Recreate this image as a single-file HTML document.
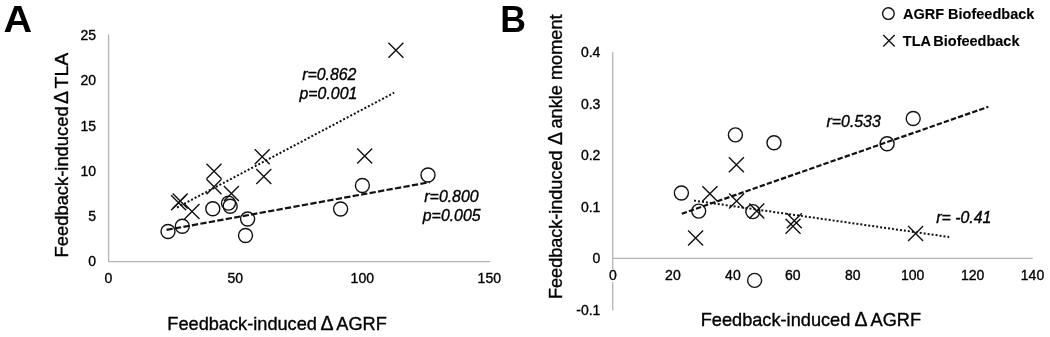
<!DOCTYPE html>
<html><head><meta charset="utf-8"><title>Figure</title>
<style>html,body{margin:0;padding:0;background:#fff;}svg{display:block;}text{font-family:"Liberation Sans",sans-serif;fill:#000;stroke:#000;stroke-width:0.35px;}.t{font-size:14px;}.ax{font-size:18.2px;}.it{font-size:15.8px;font-style:italic;}.pl{font-weight:bold;fill:#000;stroke:none;}.lg{font-size:14.5px;font-weight:bold;stroke-width:0.12px;}</style></head><body>
<svg width="1050" height="337" viewBox="0 0 1050 337">
<rect width="1050" height="337" fill="#fff"/>
<text class="pl" transform="translate(3.5 32.3) scale(1.075 1)" font-size="36.9">A</text>
<path d="M108.6 34.8V261.6H489.6" stroke="#b4b4b4" stroke-width="1.3" stroke-linejoin="round" stroke-linecap="round" fill="none"/>
<text class="t" x="96.0" y="266.4" text-anchor="end">0</text>
<text class="t" x="96.0" y="221.1" text-anchor="end">5</text>
<text class="t" x="96.0" y="175.9" text-anchor="end">10</text>
<text class="t" x="96.0" y="130.6" text-anchor="end">15</text>
<text class="t" x="96.0" y="85.4" text-anchor="end">20</text>
<text class="t" x="96.0" y="40.1" text-anchor="end">25</text>
<text class="t" x="108.3" y="282.8" text-anchor="middle">0</text>
<text class="t" x="235.3" y="282.8" text-anchor="middle">50</text>
<text class="t" x="362.3" y="282.8" text-anchor="middle">100</text>
<text class="t" x="489.3" y="282.8" text-anchor="middle">150</text>
<text class="ax" y="329.9"><tspan x="167.3">Feedback-induced</tspan><tspan x="326.9" text-anchor="middle" font-size="19.5">Δ</tspan><tspan x="336.3">AGRF</tspan></text>
<text class="ax" transform="translate(68 0) rotate(-90)"><tspan x="-257.4" textLength="151" lengthAdjust="spacingAndGlyphs">Feedback-induced</tspan><tspan x="-97.5" text-anchor="middle" font-size="19.5">Δ</tspan><tspan x="-88.5" textLength="35.7" lengthAdjust="spacingAndGlyphs">TLA</tspan></text>
<line x1="177" y1="207.5" x2="394.2" y2="92.7" stroke="#111" stroke-width="2" stroke-dasharray="2 2"/>
<line x1="166.5" y1="229.9" x2="429.7" y2="182.2" stroke="#111" stroke-width="2.2" stroke-dasharray="6.3 2.3"/>
<circle cx="168.0" cy="231.5" r="7.0" stroke="#111" stroke-width="1.4" fill="none"/>
<circle cx="182.3" cy="226.3" r="7.0" stroke="#111" stroke-width="1.4" fill="none"/>
<circle cx="212.8" cy="208.7" r="7.0" stroke="#111" stroke-width="1.4" fill="none"/>
<circle cx="228.5" cy="203.1" r="7.0" stroke="#111" stroke-width="1.4" fill="none"/>
<circle cx="230.2" cy="206.3" r="7.0" stroke="#111" stroke-width="1.4" fill="none"/>
<circle cx="247.6" cy="219.0" r="7.0" stroke="#111" stroke-width="1.4" fill="none"/>
<circle cx="245.5" cy="235.5" r="7.0" stroke="#111" stroke-width="1.4" fill="none"/>
<circle cx="340.6" cy="209.0" r="7.0" stroke="#111" stroke-width="1.4" fill="none"/>
<circle cx="362.4" cy="185.5" r="7.0" stroke="#111" stroke-width="1.4" fill="none"/>
<circle cx="428.0" cy="175.0" r="7.0" stroke="#111" stroke-width="1.4" fill="none"/>
<path d="M171.1 195.2L186.1 210.2M171.1 210.2L186.1 195.2" stroke="#111" stroke-width="1.4" fill="none"/>
<path d="M172.7 193.6L187.7 208.6M172.7 208.6L187.7 193.6" stroke="#111" stroke-width="1.4" fill="none"/>
<path d="M184.5 204.0L199.5 219.0M184.5 219.0L199.5 204.0" stroke="#111" stroke-width="1.4" fill="none"/>
<path d="M206.5 163.8L221.5 178.8M206.5 178.8L221.5 163.8" stroke="#111" stroke-width="1.4" fill="none"/>
<path d="M206.5 179.3L221.5 194.3M206.5 194.3L221.5 179.3" stroke="#111" stroke-width="1.4" fill="none"/>
<path d="M223.9 185.9L238.9 200.9M223.9 200.9L238.9 185.9" stroke="#111" stroke-width="1.4" fill="none"/>
<path d="M254.7 149.3L269.7 164.3M254.7 164.3L269.7 149.3" stroke="#111" stroke-width="1.4" fill="none"/>
<path d="M256.3 168.9L271.3 183.9M256.3 183.9L271.3 168.9" stroke="#111" stroke-width="1.4" fill="none"/>
<path d="M357.2 148.6L372.2 163.6M357.2 163.6L372.2 148.6" stroke="#111" stroke-width="1.4" fill="none"/>
<path d="M388.4 42.7L403.4 57.7M388.4 57.7L403.4 42.7" stroke="#111" stroke-width="1.4" fill="none"/>
<text class="it" transform="translate(356.4 80.3) scale(1.005 1)" text-anchor="end">r=0.862</text>
<text class="it" transform="translate(357.3 99.3) scale(1.005 1)" text-anchor="end">p=0.001</text>
<text class="it" transform="translate(478.6 202.3) scale(1.005 1)" text-anchor="end">r=0.800</text>
<text class="it" transform="translate(480.6 220.8) scale(1.005 1)" text-anchor="end">p=0.005</text>
<text class="pl" transform="translate(500.3 32.4) scale(0.985 1)" font-size="36.2">B</text>
<path d="M612.7 52.5V309.9M612.7 258.4H1032.2" stroke="#b4b4b4" stroke-width="1.3" stroke-linejoin="round" stroke-linecap="round" fill="none"/>
<text class="t" x="600.4" y="314.5" text-anchor="end">-0.1</text>
<text class="t" x="600.4" y="263.0" text-anchor="end">0</text>
<text class="t" x="600.4" y="211.5" text-anchor="end">0.1</text>
<text class="t" x="600.4" y="160.0" text-anchor="end">0.2</text>
<text class="t" x="600.4" y="108.6" text-anchor="end">0.3</text>
<text class="t" x="600.4" y="57.1" text-anchor="end">0.4</text>
<rect x="608.2" y="269" width="9" height="13" fill="#fff"/>
<text class="t" x="613.0" y="280.2" text-anchor="middle">0</text>
<text class="t" x="672.9" y="280.2" text-anchor="middle">20</text>
<text class="t" x="732.9" y="280.2" text-anchor="middle">40</text>
<text class="t" x="792.8" y="280.2" text-anchor="middle">60</text>
<text class="t" x="852.7" y="280.2" text-anchor="middle">80</text>
<text class="t" x="912.6" y="280.2" text-anchor="middle">100</text>
<text class="t" x="972.6" y="280.2" text-anchor="middle">120</text>
<text class="t" x="1032.5" y="280.2" text-anchor="middle">140</text>
<text class="ax" y="326.3"><tspan x="700.7">Feedback-induced</tspan><tspan x="861.1" text-anchor="middle" font-size="19.5">Δ</tspan><tspan x="870.5">AGRF</tspan></text>
<text class="ax" transform="translate(561.6 0) rotate(-90)"><tspan x="-299.0" textLength="148.6">Feedback-induced</tspan><tspan x="-138.6" text-anchor="middle" font-size="19.5">Δ</tspan><tspan x="-128.6">ankle moment</tspan></text>
<line x1="694" y1="200.6" x2="949.2" y2="237" stroke="#111" stroke-width="2" stroke-dasharray="2 2"/>
<line x1="681.8" y1="213.7" x2="988.3" y2="106.8" stroke="#111" stroke-width="2.2" stroke-dasharray="5.4 2.1"/>
<circle cx="681.4" cy="193.0" r="7.0" stroke="#111" stroke-width="1.4" fill="none"/>
<circle cx="698.7" cy="211.1" r="7.0" stroke="#111" stroke-width="1.4" fill="none"/>
<circle cx="735.4" cy="134.9" r="7.0" stroke="#111" stroke-width="1.4" fill="none"/>
<circle cx="774.0" cy="142.8" r="7.0" stroke="#111" stroke-width="1.4" fill="none"/>
<circle cx="752.8" cy="211.6" r="7.0" stroke="#111" stroke-width="1.4" fill="none"/>
<circle cx="913.2" cy="118.5" r="7.0" stroke="#111" stroke-width="1.4" fill="none"/>
<circle cx="887.1" cy="143.8" r="7.0" stroke="#111" stroke-width="1.4" fill="none"/>
<circle cx="754.6" cy="280.4" r="7.0" stroke="#111" stroke-width="1.4" fill="none"/>
<path d="M702.4 186.2L717.4 201.2M702.4 201.2L717.4 186.2" stroke="#111" stroke-width="1.4" fill="none"/>
<path d="M688.1 230.6L703.1 245.6M688.1 245.6L703.1 230.6" stroke="#111" stroke-width="1.4" fill="none"/>
<path d="M728.9 157.2L743.9 172.2M728.9 172.2L743.9 157.2" stroke="#111" stroke-width="1.4" fill="none"/>
<path d="M729.1 193.4L744.1 208.4M729.1 208.4L744.1 193.4" stroke="#111" stroke-width="1.4" fill="none"/>
<path d="M749.3 203.4L764.3 218.4M749.3 218.4L764.3 203.4" stroke="#111" stroke-width="1.4" fill="none"/>
<path d="M786.8 213.2L801.8 228.2M786.8 228.2L801.8 213.2" stroke="#111" stroke-width="1.4" fill="none"/>
<path d="M785.5 218.7L800.5 233.7M785.5 233.7L800.5 218.7" stroke="#111" stroke-width="1.4" fill="none"/>
<path d="M908.1 225.9L923.1 240.9M908.1 240.9L923.1 225.9" stroke="#111" stroke-width="1.4" fill="none"/>
<text class="it" transform="translate(826.5 126.8) scale(1.005 1)" text-anchor="start">r=0.533</text>
<text class="it" transform="translate(936.3 223.2) scale(1.005 1)" text-anchor="start">r= -0.41</text>
<circle cx="888.4" cy="13.6" r="5.8" stroke="#111" stroke-width="1.4" fill="none"/>
<path d="M883.3 35.0L894.7 46.4M883.3 46.4L894.7 35.0" stroke="#111" stroke-width="1.4" fill="none"/>
<text class="lg" x="903" y="19.4">AGRF Biofeedback</text>
<text class="lg" x="902.8" y="45.7" word-spacing="-1.2">TLA Biofeedback</text>
</svg></body></html>
